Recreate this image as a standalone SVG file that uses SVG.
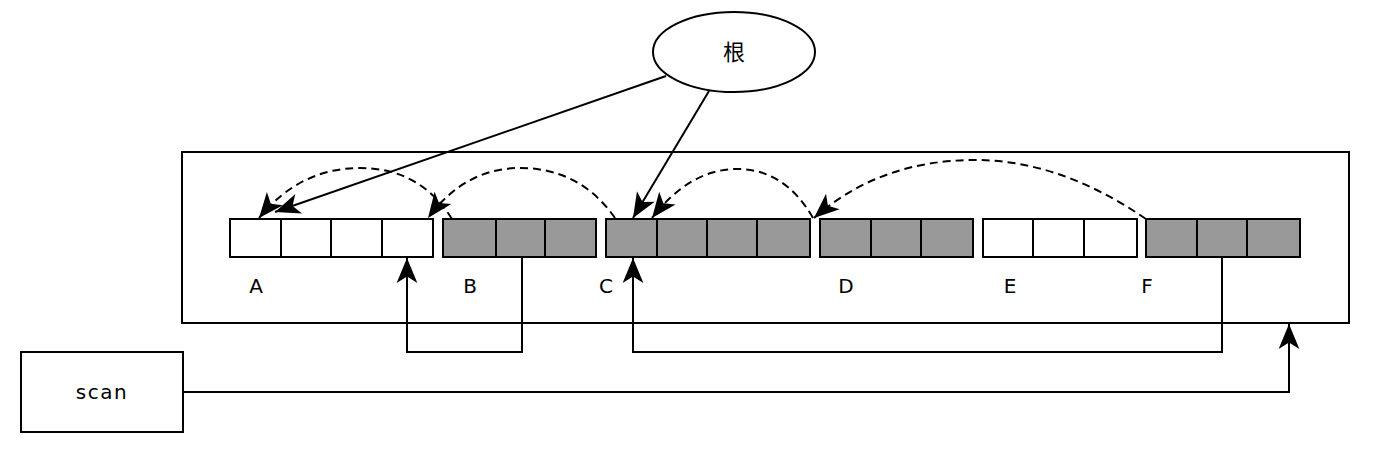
<svg xmlns="http://www.w3.org/2000/svg" width="1386" height="462" viewBox="0 0 1386 462">
<style>
.box{fill:#fff;stroke:#000;stroke-width:2}
.cw{fill:#fff;stroke:#000;stroke-width:2}
.cg{fill:#999;stroke:#000;stroke-width:2}
.ln{fill:none;stroke:#000;stroke-width:2}
.dash{fill:none;stroke:#000;stroke-width:2;stroke-dasharray:8,5}
.lbl{font-family:"DejaVu Sans","Liberation Sans",sans-serif;font-size:20px;fill:#000;text-anchor:middle}
.cjk{font-family:"Noto Sans CJK SC","Noto Sans",sans-serif;font-size:22px;fill:#000;text-anchor:middle}
</style>
<defs>
<marker id="arr" markerUnits="userSpaceOnUse" markerWidth="30" markerHeight="24" viewBox="-24 -11 26 22" refX="0" refY="0" orient="auto">
<path d="M0,0 L-23,-9.5 L-17,0 L-23,9.5 Z" fill="#000"/>
</marker>
</defs>
<rect id="heap" class="box" x="182" y="152" width="1167" height="171"/>
<g id="root">
<ellipse class="box" cx="734" cy="52" rx="81" ry="40"/>
<text class="cjk" x="734" y="60">根</text>
</g>
<g id="scan">
<rect class="box" x="21" y="352" width="162" height="80"/>
<text class="lbl" x="102" y="399" letter-spacing="1.5">scan</text>
</g>
<g id="A">
<rect class="cw" x="230" y="219" width="51" height="38"/>
<rect class="cw" x="281" y="219" width="50" height="38"/>
<rect class="cw" x="331" y="219" width="51" height="38"/>
<rect class="cw" x="382" y="219" width="51" height="38"/>
<text class="lbl" x="256" y="293">A</text>
</g>
<g id="B">
<rect class="cg" x="443" y="219" width="53" height="38"/>
<rect class="cg" x="496" y="219" width="49" height="38"/>
<rect class="cg" x="545" y="219" width="51" height="38"/>
<text class="lbl" x="470" y="293">B</text>
</g>
<g id="C">
<rect class="cg" x="606" y="219" width="51" height="38"/>
<rect class="cg" x="657" y="219" width="50" height="38"/>
<rect class="cg" x="707" y="219" width="50" height="38"/>
<rect class="cg" x="757" y="219" width="53" height="38"/>
<text class="lbl" x="606" y="293">C</text>
</g>
<g id="D">
<rect class="cg" x="820" y="219" width="51" height="38"/>
<rect class="cg" x="871" y="219" width="50" height="38"/>
<rect class="cg" x="921" y="219" width="52" height="38"/>
<text class="lbl" x="846" y="293">D</text>
</g>
<g id="E">
<rect class="cw" x="983" y="219" width="50" height="38"/>
<rect class="cw" x="1033" y="219" width="51" height="38"/>
<rect class="cw" x="1084" y="219" width="53" height="38"/>
<text class="lbl" x="1010" y="293">E</text>
</g>
<g id="F">
<rect class="cg" x="1146" y="219" width="51" height="38"/>
<rect class="cg" x="1197" y="219" width="50" height="38"/>
<rect class="cg" x="1247" y="219" width="53" height="38"/>
<text class="lbl" x="1147" y="293">F</text>
</g>
<g id="connectors">
<path class="ln" d="M666,76 L275,212" marker-end="url(#arr)"/>
<path class="ln" d="M709,91 L633,218" marker-end="url(#arr)"/>
<path class="dash" d="M452,219 Q420,168 360,168 Q300,168 259,218" marker-end="url(#arr)"/>
<path class="dash" d="M615,218 Q580,168 520,168 Q465,168 428,218" marker-end="url(#arr)"/>
<path class="dash" d="M813,218 Q785,169 737,169 Q690,169 652,218" marker-end="url(#arr)"/>
<path class="dash" d="M1146,219 Q1060,160 975,160 Q880,160 814,218" marker-end="url(#arr)"/>
<path class="ln" d="M522,257 V352 H407 V258" marker-end="url(#arr)"/>
<path class="ln" d="M1222,257 V352 H633 V258" marker-end="url(#arr)"/>
<path class="ln" d="M183,392 H1289 V324" marker-end="url(#arr)"/>
</g>
</svg>
